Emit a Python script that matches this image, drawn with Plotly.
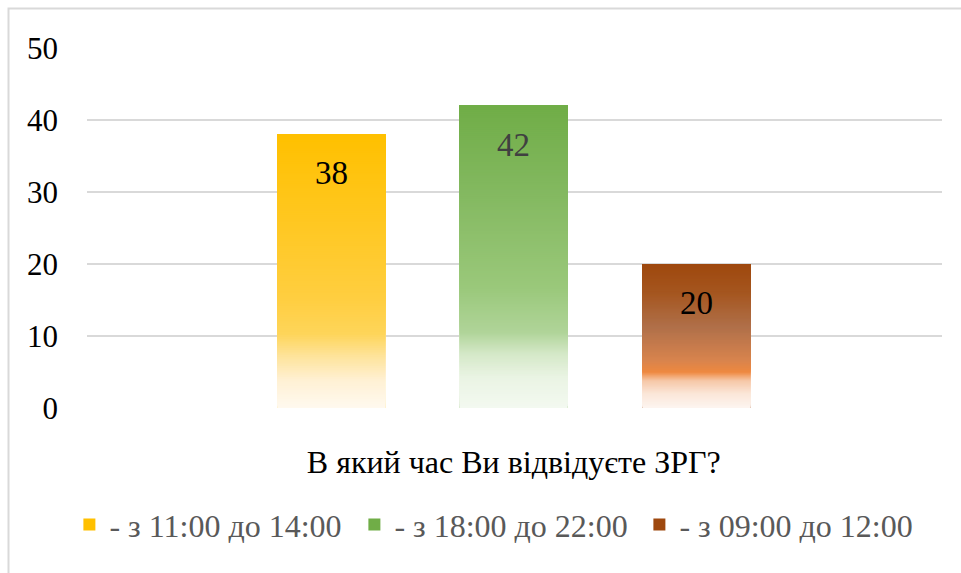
import plotly.graph_objects as go

# ---- data ----
CATEGORY = "В який час Ви відвідуєте ЗРГ?"
SERIES = ["- з 11:00 до 14:00", "- з 18:00 до 22:00", "- з 09:00 до 12:00"]
VALUES = [38, 42, 20]
Y_TICKS = [0, 10, 20, 30, 40, 50]

# ---- style ----
TOP_COLORS = ["#FFC000", "#70AD47", "#9E480E"]
LABEL_COLORS = ["#000000", "#404040", "#000000"]
GRADIENTS = [
    [(0.0, "#FFF9EF"), (0.1, "#FFF1D4"), (0.19, "#FEE39A"), (0.27, "#FED55A"),
     (0.4, "#FFCE40"), (0.7, "#FFC71F"), (1.0, "#FFC000")],
    [(0.0, "#F3F9F0"), (0.1, "#EAF4E4"), (0.18, "#D4E8C7"), (0.25, "#B0D499"),
     (0.4, "#9AC87A"), (0.7, "#84B961"), (1.0, "#70AD47")],
    [(0.0, "#FDF5F0"), (0.1, "#FBE6D8"), (0.19, "#F6C7A6"), (0.25, "#EE8840"),
     (0.33, "#D8844D"), (0.56, "#B0704A"), (0.8, "#A5561F"), (1.0, "#9E480E")],
]
N_SLICES = 150
FONT = "Liberation Serif"


def hex2rgb(h):
    h = h.lstrip("#")
    return [int(h[i:i + 2], 16) for i in (0, 2, 4)]


def interp(stops, f):
    for (f0, c0), (f1, c1) in zip(stops[:-1], stops[1:]):
        if f0 <= f <= f1:
            t = 0 if f1 == f0 else (f - f0) / (f1 - f0)
            a, b = hex2rgb(c0), hex2rgb(c1)
            return "rgb(%d,%d,%d)" % tuple(round(a[k] + (b[k] - a[k]) * t) for k in range(3))
    return stops[-1][1]


BAR_W = 0.592
fig = go.Figure()

# real bars (legend carriers)
for i, (name, v) in enumerate(zip(SERIES, VALUES)):
    fig.add_trace(go.Bar(
        x=[i], y=[v], name=name, width=BAR_W,
        marker=dict(color=TOP_COLORS[i], line=dict(width=0)),
        hoverinfo="skip",
    ))

# gradient overlay, derived from each value
for i, v in enumerate(VALUES):
    bases = [v * k / N_SLICES for k in range(N_SLICES)]
    heights = [v - b for b in bases]
    colors = [interp(GRADIENTS[i], (k + 0.5) / N_SLICES) for k in range(N_SLICES)]
    fig.add_trace(go.Bar(
        x=[i] * N_SLICES, y=heights, base=bases, width=BAR_W,
        marker=dict(color=colors, line=dict(width=0)),
        showlegend=False, hoverinfo="skip",
    ))

# value labels
for i, v in enumerate(VALUES):
    fig.add_annotation(x=i, y=v, text=str(v), showarrow=False, yshift=-39,
                       font=dict(family=FONT, size=33, color=LABEL_COLORS[i]))

# chart border
fig.add_shape(type="rect", xref="paper", yref="paper",
              x0=-0.0918, x1=1.03, y0=-0.48, y1=1.1097,
              line=dict(color="#D9D9D9", width=2), layer="below")

fig.update_layout(
    width=961, height=573,
    margin=dict(l=87, r=19, t=48, b=165, autoexpand=False),
    paper_bgcolor="white", plot_bgcolor="white",
    barmode="overlay",
    font=dict(family=FONT, color="#000000"),
    xaxis=dict(range=[-1.337, 3.345], tickvals=[1], ticktext=[CATEGORY],
               showgrid=False, zeroline=False, ticks="", showline=False,
               tickfont=dict(family=FONT, size=32, color="#000000"),
               ticklabelstandoff=32, fixedrange=True, automargin=False),
    yaxis=dict(range=[0, 50], tickvals=Y_TICKS, showgrid=True,
               gridcolor="#D9D9D9", gridwidth=1.5, zeroline=False,
               showline=False, ticks="",
               tickfont=dict(family=FONT, size=31, color="#000000"),
               ticklabelstandoff=28, automargin=False),
    legend=dict(orientation="h", x=-0.0206, xanchor="left", y=-0.3245, yanchor="middle",
                font=dict(family=FONT, size=32, color="#595959"),
                entrywidth=240, itemwidth=30, bgcolor="rgba(0,0,0,0)"),
    showlegend=True,
)

fig.write_html("out.html",
               config={"displayModeBar": False},
               post_script="document.body.style.margin='0';document.body.style.padding='0';")
